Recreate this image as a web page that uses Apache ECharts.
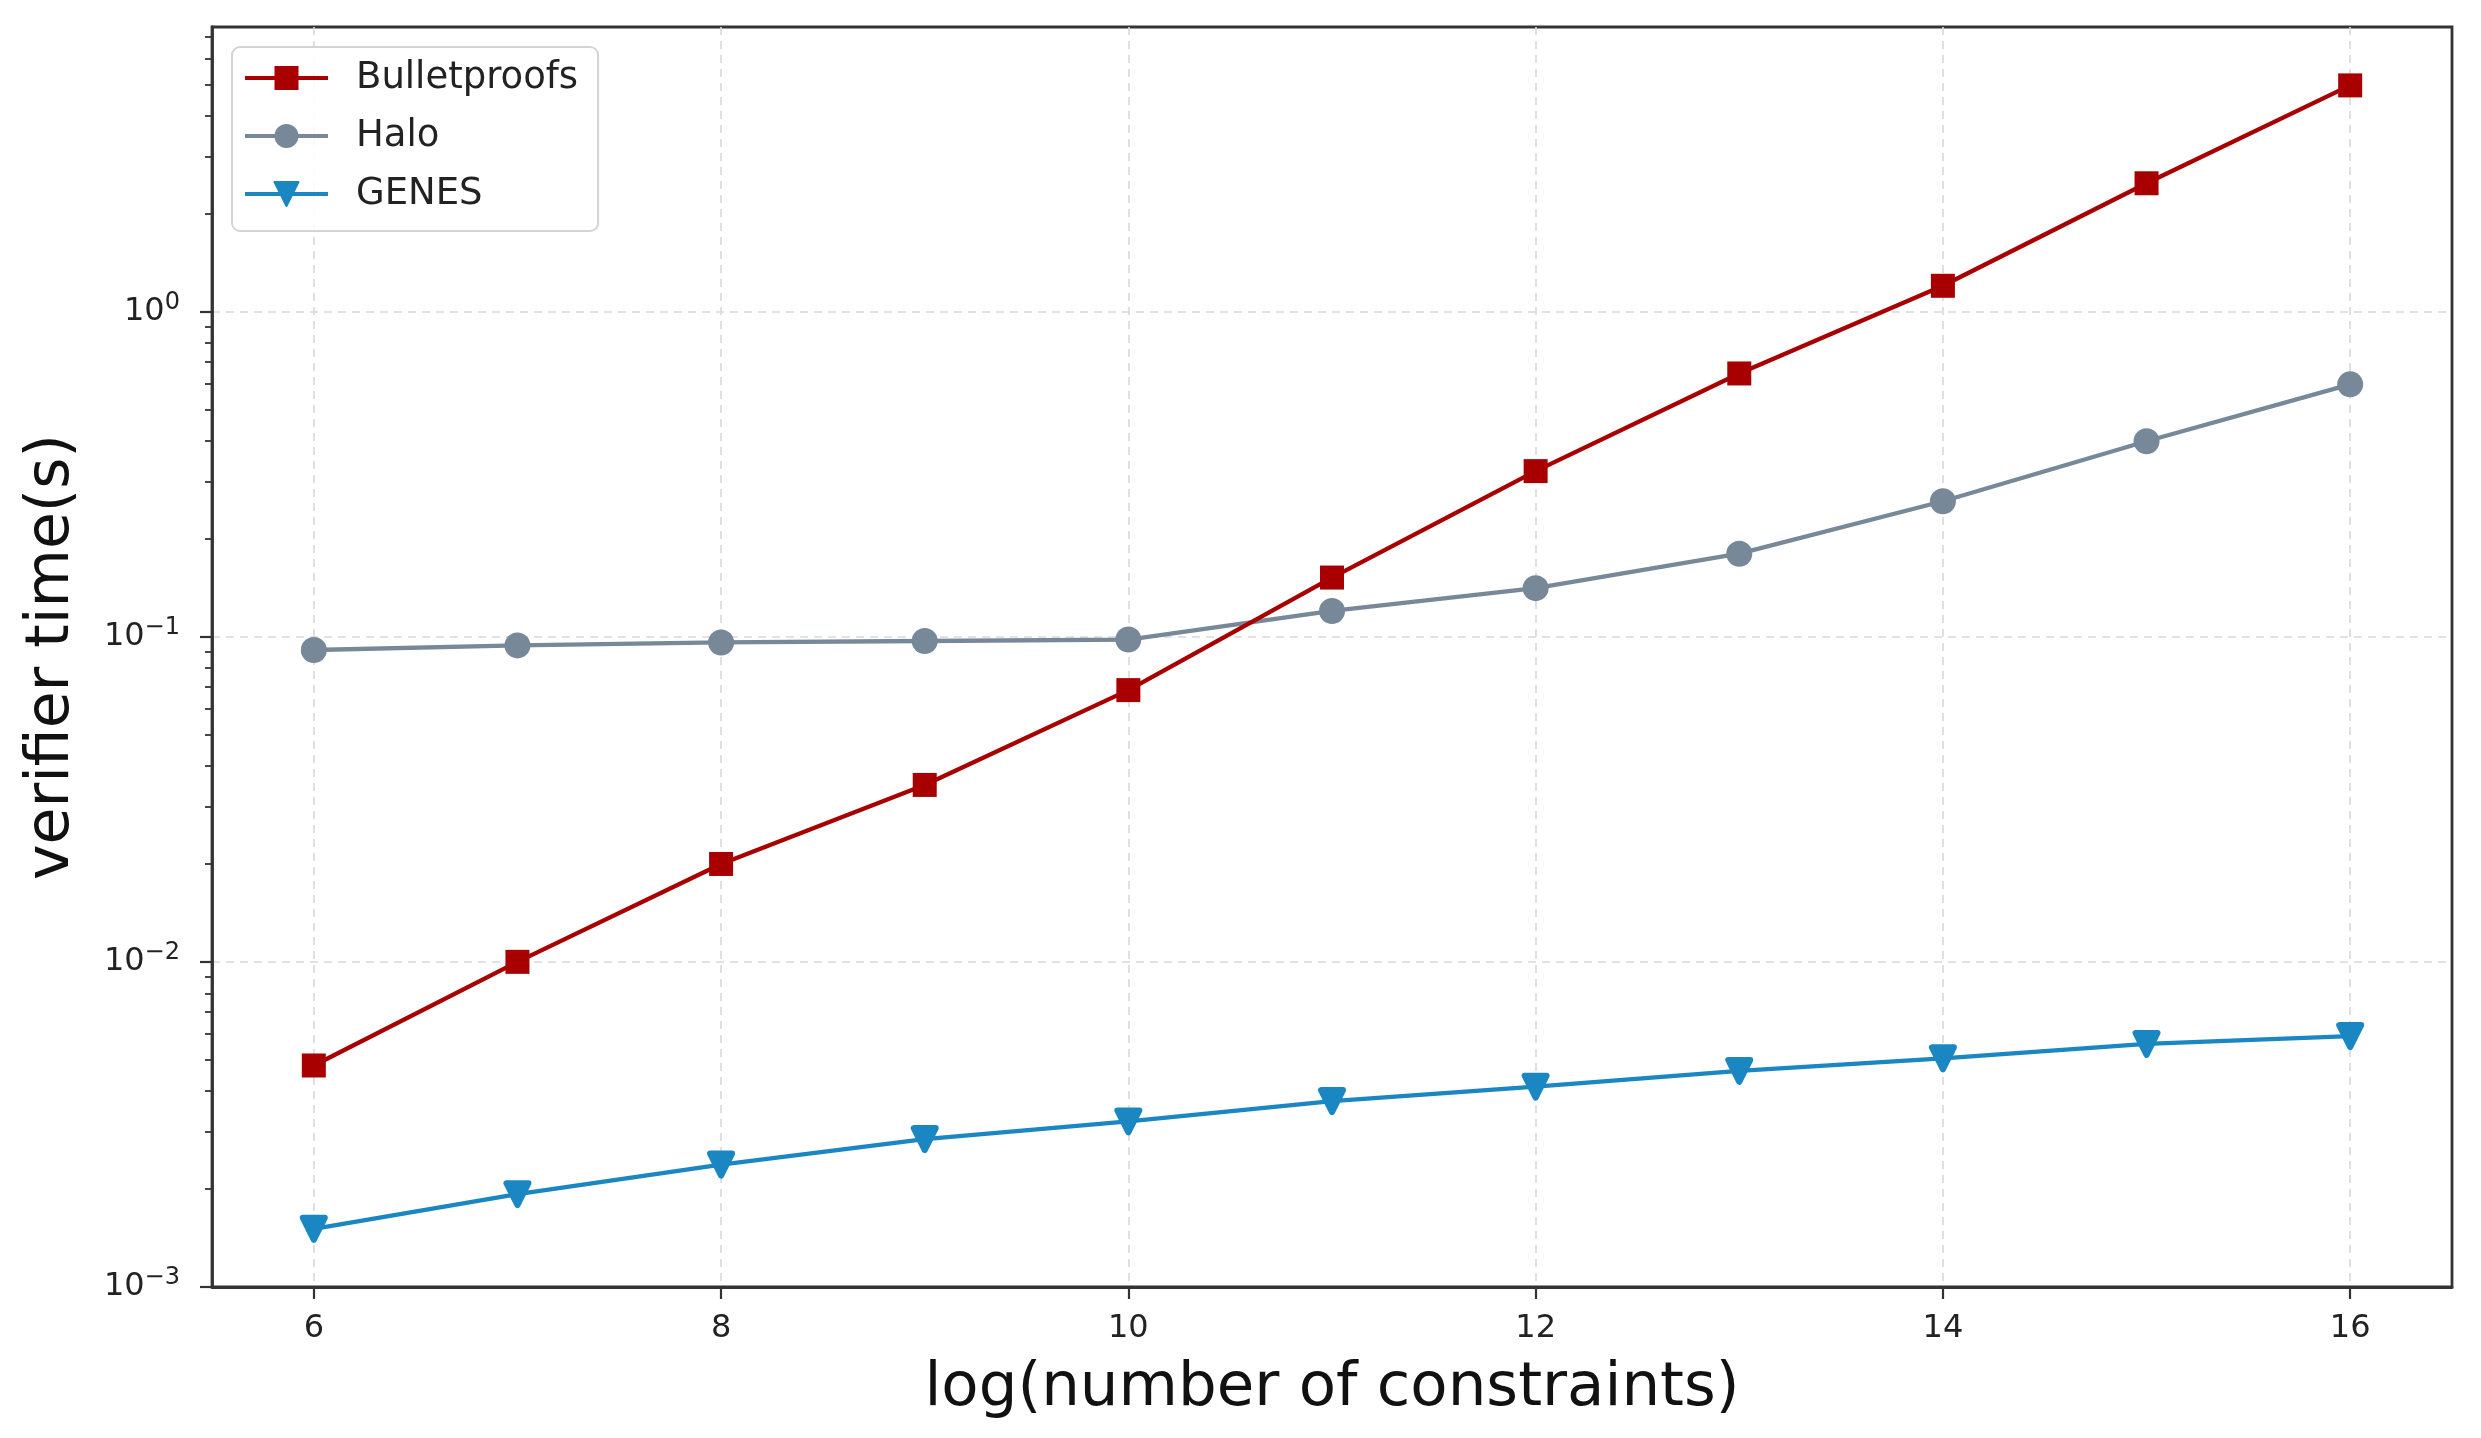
<!DOCTYPE html>
<html>
<head>
<meta charset="utf-8">
<script src="https://cdn.jsdelivr.net/npm/echarts@6/dist/echarts.min.js"></script>
<style>
html,body{margin:0;padding:0;background:#fff;}
#c{width:2481px;height:1438px;}
</style>
</head>
<body>
<div id="c"></div>
<script>
const xValues = [6, 7, 8, 9, 10, 11, 12, 13, 14, 15, 16];
const bulletproofs = [0.0048, 0.0100, 0.0200, 0.0350, 0.0685, 0.152, 0.323, 0.645, 1.20, 2.48, 4.96];
const halo = [0.091, 0.094, 0.096, 0.097, 0.098, 0.120, 0.141, 0.180, 0.261, 0.399, 0.597];
const genes = [0.00151, 0.00193, 0.00238, 0.00285, 0.00323, 0.00373, 0.00413, 0.00462, 0.00505, 0.00559, 0.00591];
const xTicks = [6, 8, 10, 12, 14, 16];
const yMajorTicks = [0.001, 0.01, 0.1, 1];
const yMinorTicks = [0.002,0.003,0.004,0.005,0.006,0.007,0.008,0.009,
                     0.02,0.03,0.04,0.05,0.06,0.07,0.08,0.09,
                     0.2,0.3,0.4,0.5,0.6,0.7,0.8,0.9,
                     2,3,4,5,6,7];
const seriesNames = ['Bulletproofs', 'Halo', 'GENES'];

const FONT = 'DejaVu Sans';
const pairs = arr => xValues.map((x, i) => [x, arr[i]]);

const chart = echarts.init(document.getElementById('c'), null, {renderer: 'canvas'});
const option = {
  backgroundColor: '#ffffff',
  animation: false,
  grid: {left: 212, right: 29, top: 27, bottom: 151, show: true, borderColor: '#333', borderWidth: 2.8, backgroundColor: 'transparent'},
  legend: {
    left: 232, top: 47, orient: 'vertical',
    data: seriesNames,
    itemWidth: 83, itemHeight: 30, itemGap: 20,
    padding: [12, 20, 18, 11],
    borderColor: '#d4d4d4', borderWidth: 2, borderRadius: 8,
    backgroundColor: 'rgba(255,255,255,0.85)',
    lineStyle: {width: 4},
    textStyle: {fontFamily: FONT, fontSize: 37, lineHeight: 38, color: '#222', padding: [0, 0, 0, 23]}
  },
  xAxis: {
    type: 'value', min: 5.5, max: 16.5,
    name: 'log(number of constraints)', nameLocation: 'middle', nameGap: 72,
    nameTextStyle: {fontFamily: FONT, fontSize: 61, color: '#111'},
    axisLine: {show: true, lineStyle: {color: '#333', width: 2.8}},
    axisTick: {show: true, length: 12, lineStyle: {color: '#333', width: 2.2}, customValues: xTicks},
    axisLabel: {fontFamily: FONT, fontSize: 32, color: '#222', margin: 26, customValues: xTicks},
    splitLine: {show: true, lineStyle: {color: '#d9d9d9', width: 1.6, type: [8, 6]}}
  },
  yAxis: [{
    type: 'log', min: 0.001, max: 7.5, logBase: 10,
    name: 'verifier time(s)', nameLocation: 'middle', nameGap: 130,
    nameTextStyle: {fontFamily: FONT, fontSize: 60, color: '#111'},
    axisLine: {show: true, lineStyle: {color: '#333', width: 2.8}},
    axisTick: {show: true, length: 12, lineStyle: {color: '#333', width: 2.2}, customValues: yMajorTicks},
    axisLabel: {
      customValues: yMajorTicks, margin: 32,
      formatter: v => {
        const e = Math.round(Math.log10(v));
        return '{b|10}{s|' + (e < 0 ? '\u2212' + (-e) : String(e)) + '}';
      },
      rich: {
        b: {fontFamily: FONT, fontSize: 32, color: '#222'},
        s: {fontFamily: FONT, fontSize: 24, color: '#222', padding: [0, 0, 18, 0]}
      }
    },
    splitLine: {show: true, lineStyle: {color: '#d9d9d9', width: 1.6, type: [8, 6]}}
  }, {
    type: 'log', min: 0.001, max: 7.5, logBase: 10, position: 'left',
    axisLine: {show: false},
    axisTick: {show: true, length: 7, lineStyle: {color: '#333', width: 1.8}, customValues: yMinorTicks},
    axisLabel: {show: false},
    splitLine: {show: false}
  }],
  series: [{
    name: 'Bulletproofs', type: 'line', data: pairs(bulletproofs),
    symbol: 'rect', symbolSize: 24,
    itemStyle: {color: '#a80000'},
    lineStyle: {color: '#a80000', width: 4.3}, z: 3
  }, {
    name: 'Halo', type: 'line', data: pairs(halo),
    symbol: 'circle', symbolSize: 26,
    itemStyle: {color: '#778899'},
    lineStyle: {color: '#778899', width: 4.3}, z: 2
  }, {
    name: 'GENES', type: 'line', data: pairs(genes),
    symbol: 'triangle', symbolRotate: 180, symbolSize: 22,
    itemStyle: {color: '#1a86c2', borderColor: '#1a86c2', borderWidth: 6, borderJoin: 'round'},
    lineStyle: {color: '#1a86c2', width: 4.3}, z: 1
  }]
};
chart.setOption(option);
</script>
</body>
</html>
